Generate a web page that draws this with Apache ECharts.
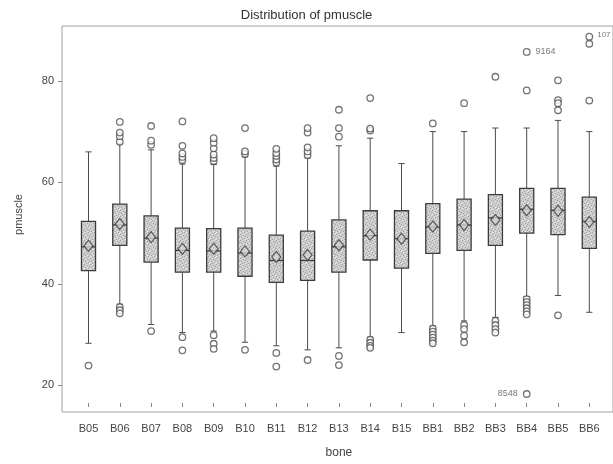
<!DOCTYPE html>
<html>
<head>
<meta charset="utf-8">
<style>
  html, body { margin: 0; padding: 0; background: #ffffff; }
  #chart { width: 613px; height: 464px; }
</style>
<script src="https://cdn.jsdelivr.net/npm/echarts@6/dist/echarts.min.js"></script>
</head>
<body>
<div id="chart"></div>
<script>
// Bone groups on the x axis
const bones = ['B05', 'B06', 'B07', 'B08', 'B09', 'B10', 'B11', 'B12', 'B13',
               'B14', 'B15', 'BB1', 'BB2', 'BB3', 'BB4', 'BB5', 'BB6'];

// Box statistics per bone (pmuscle)
const whiskerLow  = [28.3, 36.0, 32.0, 30.4, 30.7, 28.5, 27.8, 27.0, 27.4, 29.5, 30.4, 31.7, 32.7, 33.4, 37.5, 37.7, 34.4];
const quartile1   = [42.6, 47.6, 44.3, 42.3, 42.3, 41.5, 40.3, 40.7, 42.3, 44.7, 43.1, 46.0, 46.6, 47.6, 50.0, 49.7, 47.0];
const medians     = [47.3, 51.6, 49.0, 46.6, 46.5, 46.1, 44.6, 44.6, 47.3, 49.5, 48.9, 51.2, 51.6, 53.0, 54.7, 54.5, 52.3];
const quartile3   = [52.3, 55.7, 53.4, 51.0, 50.9, 51.0, 49.6, 50.4, 52.6, 54.4, 54.4, 55.8, 56.7, 57.6, 58.8, 58.8, 57.1];
const whiskerHigh = [66.0, 67.6, 66.4, 63.6, 63.5, 65.0, 63.2, 64.8, 67.2, 68.7, 63.7, 70.0, 70.0, 70.7, 70.7, 72.2, 70.0];
const means       = [47.5, 51.8, 49.2, 46.9, 46.9, 46.4, 45.3, 45.7, 47.6, 49.7, 48.9, 51.3, 51.6, 52.6, 54.5, 54.4, 52.2];

// Outlying observations per bone
const outliers = [
  [23.9],
  [68.0, 69.1, 69.8, 71.9, 35.4, 34.8, 34.2],
  [67.4, 68.2, 71.1, 30.7],
  [64.4, 65.0, 65.7, 67.2, 72.0, 29.5, 26.9],
  [64.2, 64.8, 65.5, 66.7, 67.8, 68.7, 29.9, 28.2, 27.2],
  [65.6, 66.1, 70.7, 27.0],
  [63.9, 64.5, 65.2, 65.8, 66.6, 26.4, 23.7],
  [65.4, 66.1, 66.9, 69.8, 70.7, 25.0],
  [69.0, 70.7, 74.3, 25.8, 24.0],
  [70.2, 70.6, 76.6, 29.0, 28.4, 27.8, 27.4],
  [],
  [71.6, 31.2, 30.6, 30.0, 29.4, 28.8, 28.3],
  [75.6, 31.9, 31.1, 29.8, 28.5],
  [80.8, 32.7, 31.9, 31.1, 30.4],
  [78.1, 37.0, 36.4, 35.8, 35.2, 34.6, 34.0],
  [80.1, 76.2, 75.6, 74.2, 33.8],
  [76.1, 87.3]
];

// Outliers tagged with their observation id
const labelledBones  = ['BB4', 'BB4', 'BB6'];
const labelledValues = [85.7, 18.3, 88.7];
const labelledIds    = ['9164', '8548', '107'];

const yTicks = [20, 40, 60, 80];

// Stippled grey used inside the boxes
function stipple() {
  const c = document.createElement('canvas');
  c.width = 6; c.height = 6;
  const g = c.getContext('2d');
  g.fillStyle = '#cdcdcd';
  g.fillRect(0, 0, 6, 6);
  g.fillStyle = '#a0a0a0';
  [[0, 0], [3, 1], [1, 3], [4, 4], [5, 2], [2, 5]].forEach(p => g.fillRect(p[0], p[1], 1, 1));
  g.fillStyle = '#e6e6e6';
  [[2, 0], [5, 5], [0, 4], [3, 3]].forEach(p => g.fillRect(p[0], p[1], 1, 1));
  return c;
}
const boxFill = { image: stipple(), repeat: 'repeat' };

const boxData = bones.map((b, i) =>
  [i, whiskerLow[i], quartile1[i], medians[i], quartile3[i], whiskerHigh[i]]);
const meanData = bones.map((b, i) => [i, means[i]]);
const outlierData = [];
outliers.forEach((list, i) => list.forEach(v => outlierData.push([i, v])));

const labelPos = { '9164': 'right', '8548': 'left', '107': 'right' };
const labelledData = labelledBones.map((b, k) => ({
  value: [bones.indexOf(b), labelledValues[k]],
  label: {
    show: true,
    formatter: labelledIds[k],
    position: labelPos[labelledIds[k]],
    distance: labelledIds[k] === '107' ? 4 : 5,
    offset: labelledIds[k] === '107' ? [0, -2] : [0, 0],
    fontSize: labelledIds[k] === '107' ? 8 : 9,
    color: '#555',
    fontFamily: 'Liberation Sans'
  }
}));

const chart = echarts.init(document.getElementById('chart'), null, { renderer: 'canvas' });

chart.setOption({
  backgroundColor: '#ffffff',
  animation: false,
  textStyle: { fontFamily: 'Liberation Sans' },
  title: {
    text: 'Distribution of pmuscle',
    left: 'center',
    top: 4,
    textStyle: { fontSize: 13, fontWeight: 'normal', color: '#333', fontFamily: 'Liberation Sans' }
  },
  grid: [
    { left: 72.85, width: 532.1, top: 26, bottom: 52, containLabel: false },
    // outer frame; its right edge runs past the canvas
    { left: 62, right: -50, top: 26, bottom: 52, show: true, borderColor: '#a0a0a0', borderWidth: 1,
      backgroundColor: 'transparent' }
  ],
  xAxis: [
    {
      type: 'category',
      gridIndex: 0,
      data: bones,
      name: 'bone',
      nameLocation: 'middle',
      nameGap: 44,
      nameTextStyle: { fontSize: 12, color: '#444' },
      axisLine: { show: false },
      axisTick: { show: true, alignWithLabel: true, length: 4, lineStyle: { color: '#888' } },
      axisLabel: { margin: 20, fontSize: 11, color: '#444' },
      splitLine: { show: false }
    },
    { type: 'value', gridIndex: 1, show: false }
  ],
  yAxis: [
    {
      type: 'value',
      gridIndex: 0,
      min: 16.53,
      max: 90.8,
      offset: 10.85,
      name: 'pmuscle',
      nameLocation: 'middle',
      nameGap: 38,
      nameTextStyle: { fontSize: 11, color: '#444' },
      axisLine: { show: false },
      axisTick: { show: true, length: 4, customValues: yTicks, lineStyle: { color: '#888' } },
      axisLabel: { margin: 8, fontSize: 11, color: '#444', customValues: yTicks },
      splitLine: { show: false }
    },
    { type: 'value', gridIndex: 1, show: false }
  ],
  series: [
    {
      type: 'custom',
      name: 'box',
      xAxisIndex: 0,
      yAxisIndex: 0,
      data: boxData,
      z: 2,
      renderItem: function (params, api) {
        const i = api.value(0);
        const pLow = api.coord([i, api.value(1)]);
        const pQ1 = api.coord([i, api.value(2)]);
        const pMed = api.coord([i, api.value(3)]);
        const pQ3 = api.coord([i, api.value(4)]);
        const pHigh = api.coord([i, api.value(5)]);
        const band = api.size([1, 0])[0];
        const half = band * 0.225;
        const cap = band * 0.1;
        const cx = pMed[0];
        const line = { stroke: '#4a4a4a', lineWidth: 1 };
        return {
          type: 'group',
          children: [
            { type: 'line', shape: { x1: cx, y1: pLow[1], x2: cx, y2: pQ1[1] }, style: line },
            { type: 'line', shape: { x1: cx, y1: pQ3[1], x2: cx, y2: pHigh[1] }, style: line },
            { type: 'line', shape: { x1: cx - cap, y1: pLow[1], x2: cx + cap, y2: pLow[1] }, style: line },
            { type: 'line', shape: { x1: cx - cap, y1: pHigh[1], x2: cx + cap, y2: pHigh[1] }, style: line },
            { type: 'rect', shape: { x: cx - half, y: pQ3[1], width: half * 2, height: pQ1[1] - pQ3[1] },
              style: { fill: boxFill, stroke: '#3c3c3c', lineWidth: 1.3 } },
            { type: 'line', shape: { x1: cx - half, y1: pMed[1], x2: cx + half, y2: pMed[1] },
              style: { stroke: '#3c3c3c', lineWidth: 1.3 } }
          ]
        };
      }
    },
    {
      type: 'scatter',
      name: 'mean',
      data: meanData,
      symbol: 'diamond',
      symbolSize: [9, 11],
      z: 4,
      itemStyle: { color: '#d2d2d2', borderColor: '#3c3c3c', borderWidth: 1.2 }
    },
    {
      type: 'scatter',
      name: 'outlier',
      data: outlierData,
      symbol: 'circle',
      symbolSize: 6.5,
      z: 3,
      itemStyle: { color: '#ffffff', borderColor: '#505050', borderWidth: 1.3 }
    },
    {
      type: 'scatter',
      name: 'labelled',
      data: labelledData,
      symbol: 'circle',
      symbolSize: 6.5,
      z: 3,
      itemStyle: { color: '#ffffff', borderColor: '#505050', borderWidth: 1.3 }
    }
  ]
});
</script>
</body>
</html>
